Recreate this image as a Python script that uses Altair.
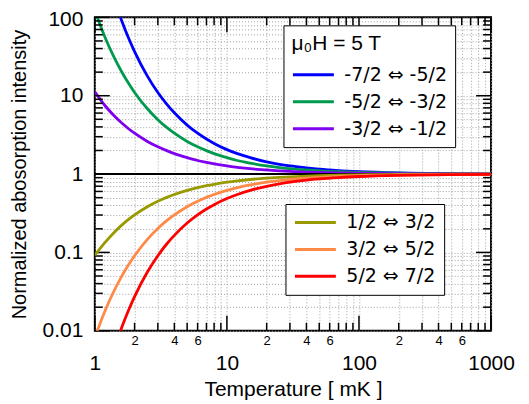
import altair as alt
import pandas as pd

FONT = "Liberation Sans, Arial, Helvetica, DejaVu Sans, sans-serif"
LEG_FONT = "DejaVu Sans, Liberation Sans, sans-serif"

# ---- data ----
temps = [1, 1.2, 1.4, 1.6, 1.8, 2, 2.5, 3, 3.5, 4, 5, 6, 7, 8, 10, 12, 15, 20,
         25, 30, 40, 50, 70, 100, 200, 500, 1000]

neg_names = ["-7/2 ⇔ -5/2", "-5/2 ⇔ -3/2", "-3/2 ⇔ -1/2"]
neg_colors = ["#0000ff", "#009a4e", "#7f00f0"]
pos_names = ["1/2 ⇔ 3/2", "3/2 ⇔ 5/2", "5/2 ⇔ 7/2"]
pos_colors = ["#999900", "#ff8a48", "#ff0000"]

blue = [1339, 403, 171, 90.0, 54.6, 36.6, 17.8, 11.0, 7.83, 6.05, 4.22, 3.32, 2.80, 2.46,
        2.05, 1.82, 1.62, 1.43, 1.33, 1.27, 1.20, 1.155, 1.108, 1.075, 1.037, 1.015, 1.007]
green = [121.5, 54.6, 30.8, 20.1, 14.4, 11.0, 6.82, 4.95, 3.94, 3.32, 2.61, 2.23, 1.99, 1.82,
         1.62, 1.49, 1.38, 1.27, 1.21, 1.17, 1.13, 1.10, 1.07, 1.049, 1.024, 1.010, 1.005]
purple = [11.2, 7.39, 5.55, 4.48, 3.79, 3.32, 2.61, 2.23, 1.99, 1.82, 1.62, 1.49, 1.41, 1.35,
          1.27, 1.22, 1.17, 1.13, 1.10, 1.08, 1.06, 1.05, 1.035, 1.024, 1.012, 1.005, 1.002]
olive = [0.092, 0.135, 0.180, 0.223, 0.264, 0.301, 0.383, 0.449, 0.504, 0.549, 0.619, 0.670,
         0.710, 0.741, 0.787, 0.819, 0.852, 0.887, 0.909, 0.923, 0.942, 0.953, 0.966, 0.976,
         0.988, 0.995, 0.998]
orange = [0.0082, 0.0183, 0.0324, 0.0498, 0.0695, 0.0907, 0.147, 0.202, 0.254, 0.301, 0.383,
          0.449, 0.504, 0.549, 0.619, 0.670, 0.726, 0.787, 0.825, 0.852, 0.887, 0.909, 0.934,
          0.953, 0.976, 0.990, 0.995]
red = [0.00075, 0.0025, 0.0058, 0.0111, 0.0183, 0.0273, 0.0561, 0.0907, 0.128, 0.165, 0.237,
       0.301, 0.358, 0.407, 0.487, 0.549, 0.619, 0.698, 0.750, 0.787, 0.835, 0.866, 0.902,
       0.931, 0.965, 0.986, 0.993]

x_major = [1, 10, 100, 1000]
x_minor = [2, 3, 4, 5, 6, 7, 8, 9, 20, 30, 40, 50, 60, 70, 80, 90,
           200, 300, 400, 500, 600, 700, 800, 900]
x_minor_labeled = [2, 4, 6, 20, 40, 60, 200, 400, 600]
y_major = [0.01, 0.1, 1, 10, 100]
y_minor = [0.02, 0.03, 0.04, 0.05, 0.06, 0.07, 0.08, 0.09,
           0.2, 0.3, 0.4, 0.5, 0.6, 0.7, 0.8, 0.9,
           2, 3, 4, 5, 6, 7, 8, 9,
           20, 30, 40, 50, 60, 70, 80, 90]
ref_level = [1]


def long_df(names, series, col):
    rows = []
    for name, vals in zip(names, series):
        for t, v in zip(temps, vals):
            rows.append({"T": t, "I": v, col: name})
    return pd.DataFrame(rows)


df_neg = long_df(neg_names, [blue, green, purple], "transition")
df_pos = long_df(pos_names, [olive, orange, red], "transition2")

TOP = 9
W, H = 397, 323 - TOP

xscale = alt.Scale(type="log", domain=[1, 1000], nice=False)
yscale = alt.Scale(type="log", domain=[0.01, 100], nice=False)

x_major_test = "indexof(%s, datum.value) >= 0" % str(x_major)
x_minlab_test = "indexof(%s, datum.value) >= 0" % str(x_minor_labeled)

xaxis = alt.Axis(
    values=sorted(x_major + x_minor),
    labelExpr="%s ? ['', toString(datum.value)] : (%s ? substring(toString(datum.value), 0, 1) : '')"
    % (x_major_test, x_minlab_test),
    labelFontSize={"condition": {"test": x_major_test, "value": 21}, "value": 13},
    labelLineHeight=18,
    labelPadding=4,
    labelOverlap=False, labelFlush=False, labelBound=False,
    labelColor="black", labelFont=FONT,
    ticks=False, domain=False,
    grid=True, gridDash=[1, 2], gridColor="#a0a0a0", gridWidth=1,
    title="Temperature [ mK ]", titleFontSize=21, titleFontWeight="normal",
    titleFont=FONT, titleColor="black", titleBaseline="middle",
    titleX=W / 2, titleY=59,
)

y_major_test = "indexof(%s, datum.value) >= 0" % str(y_major)
yaxis = alt.Axis(
    values=sorted(y_major + y_minor),
    labelExpr="%s ? toString(datum.value) : ''" % y_major_test,
    labelFontSize=21, labelPadding=12,
    labelOffset={"condition": {"test": "datum.value == 100", "value": 2}, "value": 0},
    labelOverlap=False, labelFlush=False, labelBound=False,
    labelColor="black", labelFont=FONT,
    ticks=False, domain=False,
    grid=True, gridDash=[1, 2], gridColor="#a0a0a0", gridWidth=1,
    title="Normalized abosorption intensity", titleFontSize=20, titleFontWeight="normal",
    titleFont=FONT, titleColor="black", titleAngle=-90, titleBaseline="middle",
    titleAlign="center", titleX=-75, titleY=H / 2,
)

x_enc = alt.X("T:Q", scale=xscale, axis=xaxis)
y_enc = alt.Y("I:Q", scale=yscale, axis=yaxis)

common_leg = dict(
    orient="none", symbolType="stroke", symbolSize=1681, symbolStrokeWidth=3,
    labelFontSize=19, labelFont=LEG_FONT, labelColor="black", labelOffset=9,
    padding=8, rowPadding=6, clipHeight=21, strokeColor="black", fillColor="white",
    titleFontSize=21, titleFont=FONT, titleFontWeight="normal", titleColor="black",
    titlePadding=10, cornerRadius=0, labelLimit=300,
)

leg1 = alt.Legend(title="μ₀H = 5 T", legendX=189, legendY=25 - 8 - TOP, **common_leg)
leg2 = alt.Legend(title=None, legendX=191, legendY=204 - 8 - TOP, **common_leg)

lines_neg = alt.Chart(df_neg).mark_line(strokeWidth=2.8, clip=True, interpolate="monotone").encode(
    x=x_enc, y=y_enc,
    color=alt.Color("transition:N", scale=alt.Scale(domain=neg_names, range=neg_colors),
                    sort=neg_names, legend=leg1),
)
lines_pos = alt.Chart(df_pos).mark_line(strokeWidth=2.8, clip=True, interpolate="monotone").encode(
    x=x_enc, y=y_enc,
    color=alt.Color("transition2:N", scale=alt.Scale(domain=pos_names, range=pos_colors),
                    sort=pos_names, legend=leg2),
)

ref_line = alt.Chart(pd.DataFrame({"I": ref_level})).mark_rule(
    color="black", strokeWidth=2
).encode(y=y_enc)

xmaj_df = pd.DataFrame({"T": x_major})
xmin_df = pd.DataFrame({"T": x_minor})
ymaj_df = pd.DataFrame({"I": y_major})
ymin_df = pd.DataFrame({"I": y_minor})

tick_layers = []
for dfx, L in ((xmaj_df, 15), (xmin_df, 8)):
    tick_layers.append(alt.Chart(dfx).mark_rule(color="black", strokeWidth=1.5).encode(
        x=x_enc, y=alt.value(H), y2=alt.value(H - L)))
    tick_layers.append(alt.Chart(dfx).mark_rule(color="black", strokeWidth=1.5).encode(
        x=x_enc, y=alt.value(0), y2=alt.value(L)))
for dfy, L in ((ymaj_df, 15), (ymin_df, 8)):
    tick_layers.append(alt.Chart(dfy).mark_rule(color="black", strokeWidth=1.5).encode(
        y=y_enc, x=alt.value(0), x2=alt.value(L)))
    tick_layers.append(alt.Chart(dfy).mark_rule(color="black", strokeWidth=1.5).encode(
        y=y_enc, x=alt.value(W), x2=alt.value(W - L)))

chart = alt.layer(lines_neg, ref_line, *tick_layers, lines_pos).resolve_scale(
    color="independent"
).properties(
    width=W, height=H,
    autosize=alt.AutoSizeParams(type="none"),
    padding={"left": 87, "top": TOP, "right": 30, "bottom": 72},
).configure_view(stroke="black", strokeWidth=2)

chart.save("out.html", embed_options={"renderer": "svg", "actions": False})
